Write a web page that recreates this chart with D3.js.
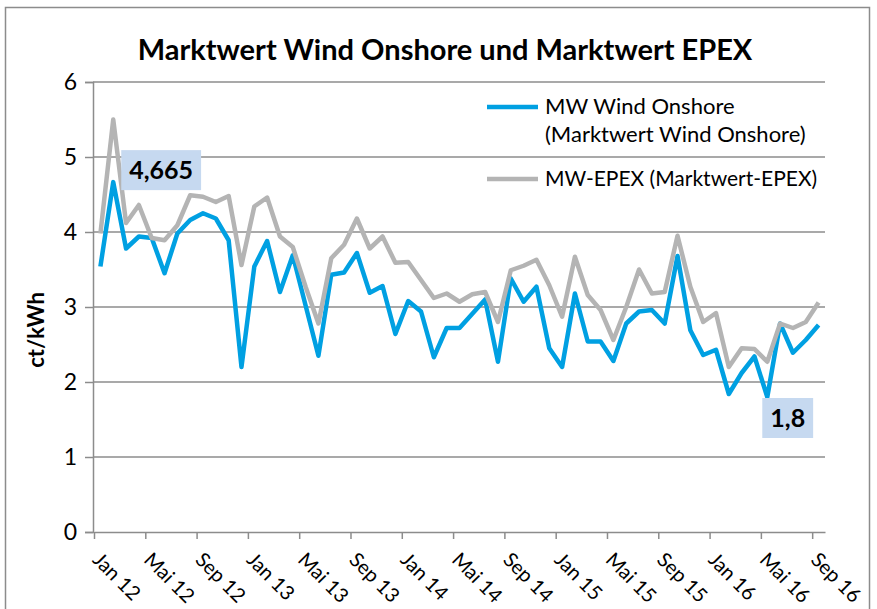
<!DOCTYPE html>
<html>
  <head>
    <meta charset='utf-8'>
    <script src="https://d3js.org/d3.v7.min.js"></script>
    <title>Marktwert Wind Onshore und Marktwert EPEX</title>
    <style>
      body { margin: 0; background: #fff; }
      text { font-family: Lato, 'Open Sans', sans-serif; fill: #000; }
    </style>
  </head>
  <body>
    <div id='chartDIV'></div>
    <script>

  // Monate Jan 12 .. Sep 16
  var monthNames = ['Jan', 'Feb', 'Mär', 'Apr', 'Mai', 'Jun', 'Jul', 'Aug', 'Sep', 'Okt', 'Nov', 'Dez'];
  var years = ['12', '13', '14', '15', '16'];
  var months = [];
  years.forEach(function(y) {
    monthNames.forEach(function(m) {
      if (months.length < 57) months.push(m + ' ' + y);
    });
  });

  // ct/kWh
  var windOnshore = [3.54, 4.665, 3.78, 3.94, 3.92, 3.45, 3.98, 4.16, 4.25, 4.18, 3.89, 2.20,
                     3.54, 3.88, 3.20, 3.69, 3.02, 2.35, 3.43, 3.46, 3.72, 3.19, 3.28, 2.64,
                     3.08, 2.94, 2.33, 2.72, 2.72, 2.91, 3.10, 2.27, 3.38, 3.07, 3.27, 2.45,
                     2.20, 3.18, 2.54, 2.54, 2.28, 2.78, 2.94, 2.96, 2.78, 3.68, 2.69, 2.36,
                     2.43, 1.84, 2.12, 2.34, 1.80, 2.78, 2.39, 2.56, 2.76];

  var epex = [3.98, 5.50, 4.12, 4.36, 3.92, 3.89, 4.09, 4.49, 4.47, 4.40, 4.48, 3.56,
              4.34, 4.46, 3.94, 3.80, 3.27, 2.78, 3.65, 3.83, 4.18, 3.78, 3.94, 3.59,
              3.60, 3.36, 3.12, 3.18, 3.07, 3.17, 3.20, 2.80, 3.49, 3.55, 3.63, 3.29,
              2.87, 3.67, 3.16, 2.96, 2.56, 3.00, 3.50, 3.18, 3.20, 3.95, 3.27, 2.80,
              2.92, 2.20, 2.45, 2.44, 2.27, 2.78, 2.72, 2.80, 3.06];

  var seriesNames = ['MW Wind Onshore', '(Marktwert Wind Onshore)', 'MW-EPEX (Marktwert-EPEX)'];
  var yTicks = [0, 1, 2, 3, 4, 5, 6];
  var xTickIdx = [0, 4, 8, 12, 16, 20, 24, 28, 32, 36, 40, 44, 48, 52, 56];
  // beschriftete Punkte: [index, text]
  var pointLabels = [[1, '4,665', 'right'], [52, '1,8', 'below']];

  var blue = '#00a0e2', grey = '#b4b4b4', gridCol = '#8c8c8c';

  var svg = d3.select('#chartDIV').append('svg')
    .attr('width', 877)
    .attr('height', 609);

  // Rahmen
  svg.append('rect')
    .attr('x', 5.5).attr('y', 7.5)
    .attr('width', 864).attr('height', 640)
    .attr('fill', 'none')
    .attr('stroke', gridCol)
    .attr('stroke-width', 1.5);

  svg.append('text')
    .attr('x', 445).attr('y', 60)
    .attr('text-anchor', 'middle')
    .style('font-size', '29px')
    .style('font-weight', 'bold')
    .text('Marktwert Wind Onshore und Marktwert EPEX');

  var xScale = d3.scaleLinear().domain([0, months.length]).range([94, 825]);
  var yScale = d3.scaleLinear().domain([0, 6]).range([532, 82]);

  // Gitter
  svg.append('g').selectAll('line')
    .data(yTicks.filter(function(d) { return d > 0; }))
    .enter().append('line')
    .attr('x1', 93).attr('x2', 825)
    .attr('y1', function(d) { return yScale(d); })
    .attr('y2', function(d) { return yScale(d); })
    .attr('stroke', gridCol)
    .attr('stroke-width', 1.5);

  var yAxis = svg.append('g')
    .attr('transform', 'translate(93,0)')
    .call(d3.axisLeft(yScale).tickValues(yTicks).tickSize(8).tickPadding(8).tickFormat(d3.format('d')));
  yAxis.select('.domain').attr('stroke', gridCol).attr('stroke-width', 1.5);
  yAxis.selectAll('.tick line').attr('stroke', gridCol).attr('stroke-width', 1.5);
  yAxis.selectAll('.tick text').style('font-size', '23px').style('font-family', 'Lato');

  var xAxis = svg.append('g')
    .attr('transform', 'translate(0,532)')
    .call(d3.axisBottom(xScale).tickValues(xTickIdx).tickSize(7).tickSizeOuter(0)
      .tickFormat(function(i) { return months[i]; }));
  xAxis.select('.domain').attr('stroke', gridCol).attr('stroke-width', 1.5);
  xAxis.selectAll('.tick line').attr('stroke', gridCol).attr('stroke-width', 1.5);
  xAxis.selectAll('.tick text')
    .style('font-size', '20px')
    .style('font-family', 'Lato')
    .attr('text-anchor', 'start')
    .attr('y', 0).attr('dy', '0.35em')
    .attr('transform', 'translate(2,24) rotate(45)');

  svg.append('text')
    .attr('transform', 'translate(44,330) rotate(-90)')
    .attr('text-anchor', 'middle')
    .style('font-size', '22px')
    .style('font-weight', 'bold')
    .text('ct/kWh');

  var line = d3.line()
    .x(function(d, i) { return xScale(i + 0.5); })
    .y(function(d) { return yScale(d); });

  svg.append('path').datum(windOnshore)
    .attr('d', line)
    .attr('fill', 'none')
    .attr('stroke', blue)
    .attr('stroke-width', 4.5)
    .attr('stroke-linejoin', 'round');

  svg.append('path').datum(epex)
    .attr('d', line)
    .attr('fill', 'none')
    .attr('stroke', grey)
    .attr('stroke-width', 4.5)
    .attr('stroke-linejoin', 'round');

  // Datenbeschriftungen
  pointLabels.forEach(function(p) {
    var px = xScale(p[0] + 0.5), py = yScale(windOnshore[p[0]]);
    var g = svg.append('g');
    var t = g.append('text')
      .style('font-size', '25px')
      .style('font-weight', 'bold')
      .attr('text-anchor', 'middle')
      .text(p[1]);
    var w = t.node().getComputedTextLength() + 16;
    var bx, by;
    if (p[2] == 'right') { bx = px + 8; by = py - 32; }
    else { bx = px - 5; by = py + 1; }
    g.insert('rect', 'text')
      .attr('x', bx).attr('y', by)
      .attr('width', w).attr('height', 40)
      .attr('fill', '#c6d9f0');
    t.attr('x', bx + w / 2).attr('y', by + 29);
  });

  // Legende
  var leg = svg.append('g');
  leg.append('line').attr('x1', 487).attr('x2', 538).attr('y1', 107).attr('y2', 107)
    .attr('stroke', blue).attr('stroke-width', 4.5);
  leg.append('text').attr('x', 545).attr('y', 114).style('font-size', '22px').text(seriesNames[0]);
  leg.append('text').attr('x', 545).attr('y', 142).style('font-size', '22px').text(seriesNames[1]);
  leg.append('line').attr('x1', 487).attr('x2', 538).attr('y1', 179).attr('y2', 179)
    .attr('stroke', grey).attr('stroke-width', 4.5);
  leg.append('text').attr('x', 545).attr('y', 186).style('font-size', '21px').text(seriesNames[2]);

    </script>
  </body>
</html>
